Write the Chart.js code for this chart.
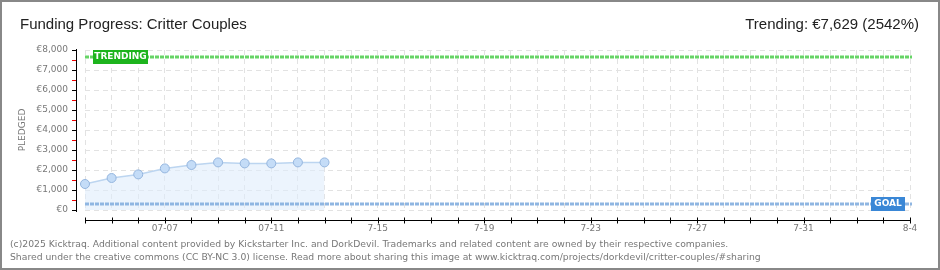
<!DOCTYPE html>
<html lang="en">
<head>
    <meta charset="UTF-8">
    <title>Funding Progress: Critter Couples</title>
    <script src="https://cdn.jsdelivr.net/npm/chart.js"></script>
    <style>
        body { margin: 0; background: #fff; }
        #wrap { position: relative; width: 940px; height: 270px; overflow: hidden; }
        #frame { position: absolute; left: 0; top: 0; width: 940px; height: 270px; box-sizing: border-box; border: 2px solid #888; pointer-events: none; }
        .txt { position: absolute; white-space: nowrap; }
        #title { left: 20px; top: 15px; font: 15px 'Liberation Sans', sans-serif; color: #222; }
        #trendTxt { right: 21px; top: 15px; font: 15px 'Liberation Sans', sans-serif; color: #222; }
        #foot { left: 10px; top: 237px; font: 9.25px 'DejaVu Sans', sans-serif; color: #777; line-height: 13px; }
    </style>
</head>
<body>
<div id="wrap">
    <canvas id="myChart" width="940" height="270"></canvas>
    <div class="txt" id="title">Funding Progress: Critter Couples</div>
    <div class="txt" id="trendTxt">Trending: €7,629 (2542%)</div>
    <div class="txt" id="foot">(c)2025 Kicktraq. Additional content provided by Kickstarter Inc. and DorkDevil. Trademarks and related content are owned by their respective companies.<br>Shared under the creative commons (CC BY-NC 3.0) license. Read more about sharing this image at www.kicktraq.com/projects/dorkdevil/critter-couples/#sharing</div>
    <div id="frame"></div>
</div>

<script>
    // 날짜 (7/4 ~ 8/4)
    const categories = [
        '07-04', '07-05', '07-06', '07-07', '07-08', '07-09', '07-10', '07-11',
        '07-12', '07-13', '07-14', '07-15', '07-16', '07-17', '07-18', '07-19',
        '07-20', '07-21', '07-22', '07-23', '07-24', '07-25', '07-26', '07-27',
        '07-28', '07-29', '07-30', '07-31', '08-01', '08-02', '08-03', '08-04'
    ];
    const tickDays = ['07-07', '07-11', '07-15', '07-19', '07-23', '07-27', '07-31', '08-04'];
    const tickLabels = ['07-07', '07-11', '7-15', '7-19', '7-23', '7-27', '7-31', '8-4'];
    const pledged = [1300, 1600, 1780, 2080, 2250, 2380, 2330, 2330, 2380, 2380];
    const trending = 7629;
    const goal = 300;

    const euro = v => '€' + v.toLocaleString('en-US');

    const kicktraqPlugin = {
        id: 'kicktraqPlugin',
        beforeDatasetsDraw: (chart) => {
            const { ctx, chartArea, scales: { x, y } } = chart;
            ctx.save();
            // y axis
            ctx.strokeStyle = '#000';
            ctx.lineWidth = 1;
            ctx.beginPath();
            ctx.moveTo(76.5, chartArea.top - 1);
            ctx.lineTo(76.5, chartArea.bottom + 2);
            ctx.stroke();
            for (let v = 0; v <= 8000; v += 500) {
                const py = Math.round(y.getPixelForValue(v)) + 0.5;
                ctx.strokeStyle = v % 1000 === 0 ? '#000' : '#e00';
                ctx.beginPath();
                ctx.moveTo(72, py);
                ctx.lineTo(v % 1000 === 0 ? 77 : 76, py);
                ctx.stroke();
            }
            // x axis
            const ay = chartArea.bottom + 10.5;
            ctx.strokeStyle = '#000';
            ctx.beginPath();
            ctx.moveTo(chartArea.left, ay);
            ctx.lineTo(chartArea.right + 1, ay);
            ctx.stroke();
            categories.forEach((c, i) => {
                const px = Math.round(x.getPixelForValue(i)) + 0.5;
                ctx.beginPath();
                ctx.moveTo(px, ay - 3);
                ctx.lineTo(px, ay + 3);
                ctx.stroke();
            });
            ctx.restore();
        },
        afterDatasetsDraw: (chart) => {
            const { ctx, chartArea, scales: { y } } = chart;
            const line = (val, color) => {
                const py = Math.round(y.getPixelForValue(val));
                ctx.save();
                ctx.strokeStyle = color;
                ctx.lineWidth = 3;
                ctx.setLineDash([4, 1]);
                ctx.beginPath();
                ctx.moveTo(chartArea.left, py);
                ctx.lineTo(chartArea.right + 2, py);
                ctx.stroke();
                ctx.restore();
                return py;
            };
            const box = (x0, py, w, color, text) => {
                ctx.save();
                ctx.fillStyle = color;
                ctx.fillRect(x0, py - 7, w, 14);
                ctx.fillStyle = '#fff';
                ctx.font = 'bold 9px "DejaVu Sans"';
                ctx.textAlign = 'center';
                ctx.textBaseline = 'middle';
                ctx.fillText(text, x0 + w / 2, py);
                ctx.restore();
            };
            const ty = line(trending, '#66d466');
            const gy = line(goal, '#8fb6e2');
            box(chartArea.left + 8, ty, 55, '#1db41d', 'TRENDING');
            box(chartArea.right - 39, gy, 34, '#3a87d6', 'GOAL');
        }
    };

    const data = {
        labels: categories,
        datasets: [{
            label: 'Pledged',
            data: pledged,
            borderColor: '#bcd5f0',
            borderWidth: 1.5,
            backgroundColor: 'rgba(223, 236, 251, 0.6)',
            fill: 'origin',
            tension: 0,
            pointRadius: 4.5,
            pointBackgroundColor: '#c4dcf7',
            pointBorderColor: '#94b5de',
            pointBorderWidth: 1
        }]
    };

    const config = {
        type: 'line',
        data: data,
        options: {
            responsive: false,
            animation: false,
            devicePixelRatio: 1,
            layout: { padding: { left: 17, top: 50, right: 30, bottom: 30 } },
            plugins: {
                legend: { display: false },
                tooltip: { enabled: false }
            },
            scales: {
                x: {
                    afterFit: (s) => { s.height = 30; },
                    border: { display: false, dash: [5, 4] },
                    grid: { color: '#e2e2e2', drawTicks: false },
                    ticks: {
                        autoSkip: false,
                        maxRotation: 0,
                        padding: 13,
                        color: '#777',
                        font: { family: 'DejaVu Sans', size: 9 },
                        callback: (v, i) => {
                            const k = tickDays.indexOf(categories[i]);
                            return k >= 0 ? tickLabels[k] : '';
                        }
                    }
                },
                y: {
                    min: 0,
                    max: 8000,
                    afterFit: (s) => { s.width = 68; },
                    border: { display: false, dash: [5, 4] },
                    grid: { color: '#e2e2e2', drawTicks: false },
                    title: {
                        display: true,
                        text: 'PLEDGED',
                        color: '#777',
                        padding: 0,
                        font: { family: 'DejaVu Sans', size: 9 }
                    },
                    ticks: {
                        stepSize: 1000,
                        padding: 17,
                        color: '#777',
                        font: { family: 'DejaVu Sans', size: 9 },
                        callback: (v) => euro(v)
                    }
                }
            }
        },
        plugins: [kicktraqPlugin]
    };

    new Chart(document.getElementById('myChart').getContext('2d'), config);
</script>
</body>
</html>
